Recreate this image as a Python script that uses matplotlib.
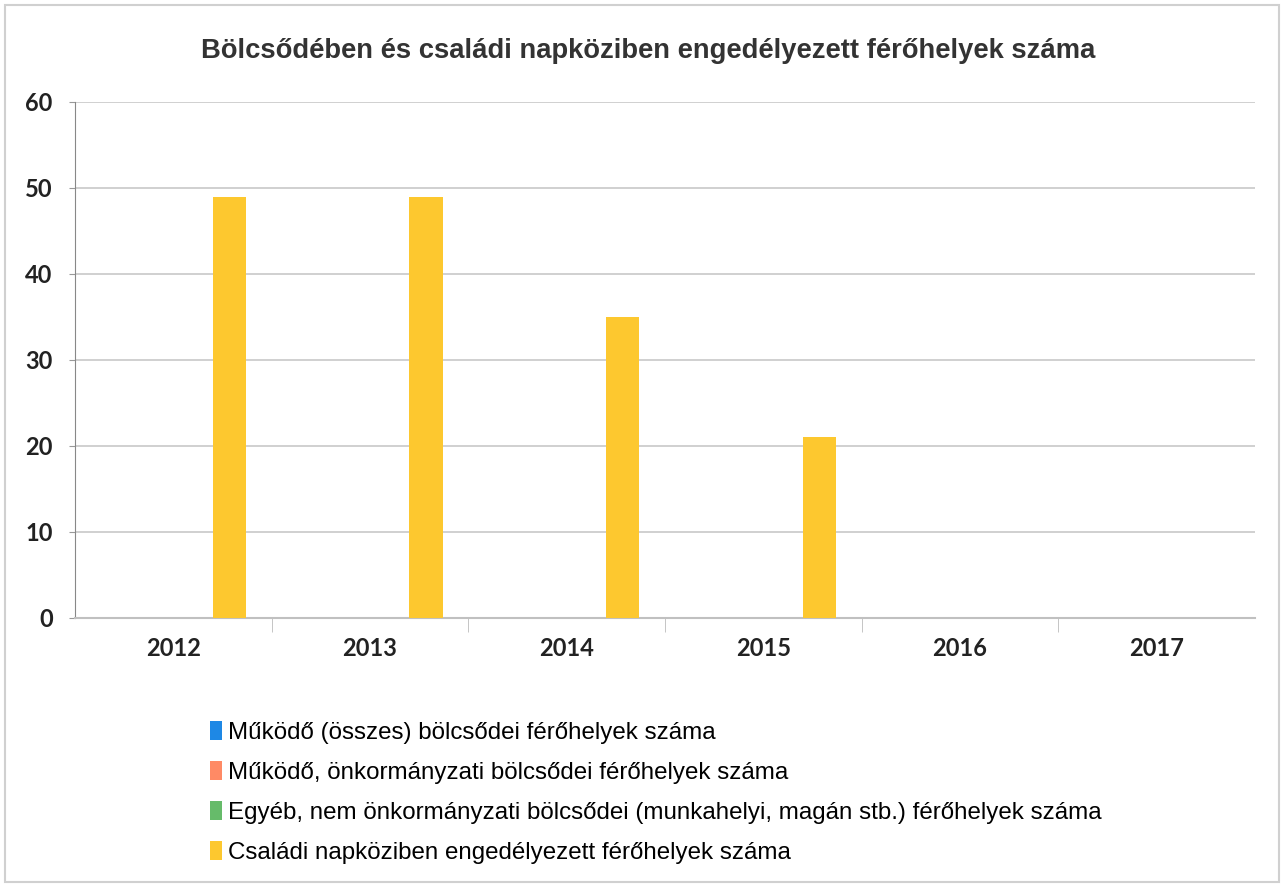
import matplotlib.pyplot as plt
import numpy as np
from matplotlib.patches import Rectangle

# Adatok
evek = ['2012', '2013', '2014', '2015', '2016', '2017']
sorozat_nevek = [
    'Működő (összes) bölcsődei férőhelyek száma',
    'Működő, önkormányzati bölcsődei férőhelyek száma',
    'Egyéb, nem önkormányzati bölcsődei (munkahelyi, magán stb.) férőhelyek száma',
    'Családi napköziben engedélyezett férőhelyek száma',
]
osszes = [0, 0, 0, 0, 0, 0]
onkormanyzati = [0, 0, 0, 0, 0, 0]
egyeb = [0, 0, 0, 0, 0, 0]
csaladi = [49, 49, 35, 21, 0, 0]

cores = ['#1e88e5', '#ff8a65', '#66bb6a', '#fdc82f']

plt.rcParams['font.family'] = ['Liberation Sans', 'DejaVu Sans']

fig = plt.figure(figsize=(12.84, 8.86), dpi=100)
fig.patches.append(Rectangle((0.004, 0.004), 0.992, 0.99, transform=fig.transFigure,
                             fill=False, edgecolor='#d0d0d0', linewidth=1.5))

ax = fig.add_axes([0.0584, 0.3025, 0.919, 0.5824])
x = np.arange(len(evek))
passo = 0.19
largura = 0.17
series = [osszes, onkormanyzati, egyeb, csaladi]
handles = []
for i, (vals, cor) in enumerate(zip(series, cores)):
    b = ax.bar(x + (i - 1.5) * passo, vals, largura, color=cor, zorder=3,
               label=sorozat_nevek[i])
    handles.append(b)

ax.set_xlim(-0.5, len(evek) - 0.5)
ax.set_ylim(0, 60)
ax.set_yticks(range(0, 61, 10))
ax.set_xticks(x)
ax.set_xticklabels(evek, fontsize=17, color='#222222', family=['Lato', 'DejaVu Sans'])
ax.set_yticklabels([str(v) for v in range(0, 61, 10)], fontsize=17, color='#222222',
                   family=['Lato', 'DejaVu Sans'], fontweight='bold')
for lbl in ax.get_xticklabels():
    lbl.set_fontweight('bold')
ax.tick_params(axis='x', length=0, pad=14)
ax.tick_params(axis='y', length=4, color='#999999', pad=12)
ax.set_xticks(np.arange(0.5, len(evek) - 0.5, 1), minor=True)
ax.tick_params(axis='x', which='minor', length=10, color='#bbbbbb')
ax.grid(axis='y', color='#c8c8c8', linewidth=1.2, zorder=0)
for s in ['top', 'right']:
    ax.spines[s].set_visible(False)
ax.spines['left'].set_color('#888888')
ax.spines['bottom'].set_color('#c0c0c0')
ax.spines['bottom'].set_linewidth(1.5)

fig.text(0.505, 0.943, 'Bölcsődében és családi napköziben engedélyezett férőhelyek száma',
         ha='center', va='center', fontsize=19.7, fontweight='bold', color='#333333')

fig.legend(handles=handles, loc='upper left', bbox_to_anchor=(0.156, 0.197),
           frameon=False, fontsize=17.4, handlelength=0.5, handleheight=0.8,
           handletextpad=0.25, labelspacing=0.72, borderaxespad=0)

fig.savefig('out.png', dpi=100)
